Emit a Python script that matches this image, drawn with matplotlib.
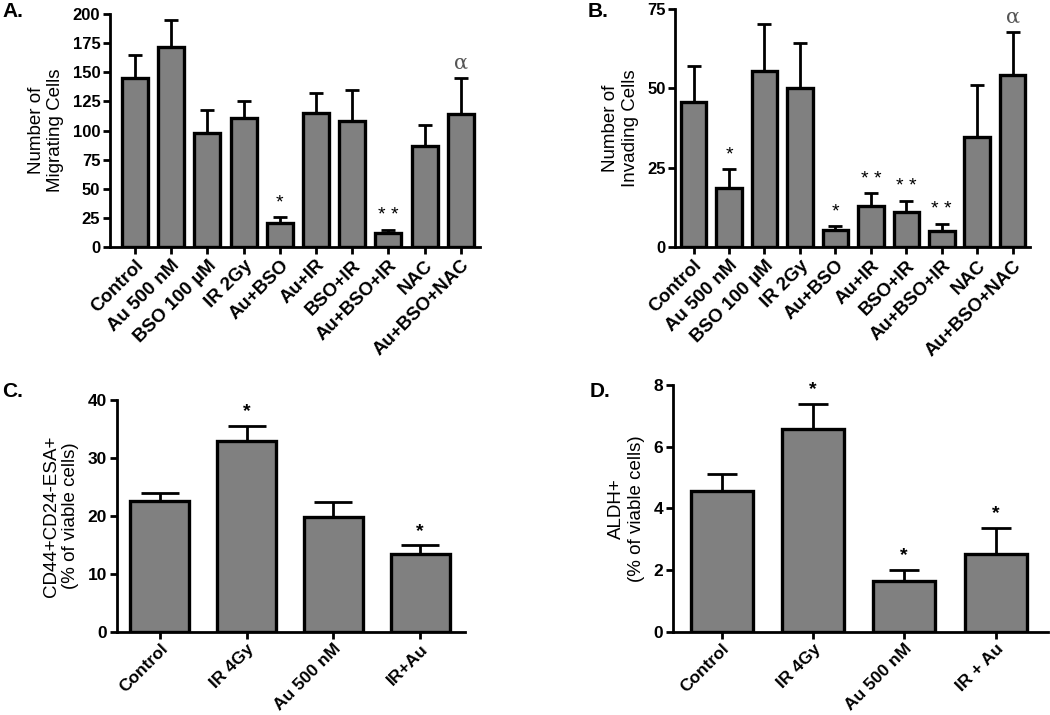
import matplotlib
matplotlib.use("Agg")
import matplotlib.pyplot as plt
import numpy as np

plt.rcParams['font.family'] = ['Liberation Sans', 'DejaVu Sans']

# ---- data ----
ab_labels = ["Control", "Au 500 nM", "BSO 100 \u00b5M", "IR 2Gy", "Au+BSO", "Au+IR",
             "BSO+IR", "Au+BSO+IR", "NAC", "Au+BSO+NAC"]
a_values = [145, 172, 98, 111, 21, 115, 108, 12, 87, 114]
a_err = [20, 23, 20, 14, 5, 17, 27, 3, 18, 31]
a_marks = ["", "", "", "", "*", "", "", "* *", "", "\u03b1"]

b_values = [45.7, 18.7, 55.3, 50.0, 5.5, 13.1, 11.1, 5.0, 34.6, 54.0]
b_err = [11.3, 5.8, 15.0, 14.2, 1.3, 3.9, 3.6, 2.5, 16.4, 13.5]
b_marks = ["", "*", "", "", "*", "* *", "* *", "* *", "", "\u03b1"]

c_labels = ["Control", "IR 4Gy", "Au 500 nM", "IR+Au"]
c_values = [22.5, 33.0, 19.8, 13.4]
c_err = [1.5, 2.5, 2.6, 1.5]
c_marks = ["", "*", "", "*"]

d_labels = ["Control", "IR 4Gy", "Au 500 nM", "IR + Au"]
d_values = [4.57, 6.58, 1.66, 2.53]
d_err = [0.55, 0.82, 0.34, 0.83]
d_marks = ["", "*", "*", "*"]

BAR = "#808080"
fig = plt.figure(figsize=(10.5, 7.15), dpi=100)


def panel(rect, labels, values, errs, marks, ylim, yticks, ylabel, xlim, width,
          capsize, letter, letter_xy, mark_bold, ytick_fs, xtick_fs, lab_fs):
    ax = fig.add_axes(rect)
    x = np.arange(len(values))
    ax.bar(x, values, width=width, color=BAR, edgecolor="black", linewidth=2.4, zorder=2)
    ax.errorbar(x, values, yerr=[np.zeros(len(errs)), errs], fmt="none",
                ecolor="black", elinewidth=2.0, capsize=capsize, capthick=2.0, zorder=1)
    ax.set_xlim(*xlim)
    ax.set_ylim(*ylim)
    ax.set_yticks(yticks)
    ax.set_xticks(x)
    ax.set_xticklabels(labels, rotation=45, ha="right", rotation_mode="anchor",
                       fontweight="bold", fontsize=xtick_fs)
    for t in ax.get_yticklabels():
        t.set_fontweight("bold")
        t.set_fontsize(ytick_fs)
    for s in ["top", "right"]:
        ax.spines[s].set_visible(False)
    for s in ["left", "bottom"]:
        ax.spines[s].set_linewidth(2.0)
    ax.tick_params(axis="both", width=2.0, length=5, direction="out", pad=2)
    ax.set_ylabel(ylabel, fontsize=lab_fs, labelpad=6)
    for xi, v, e, m in zip(x, values, errs, marks):
        if not m:
            continue
        if m == "\u03b1":
            ax.annotate(m, (xi, v + e), xytext=(0, 4), textcoords="offset points",
                        ha="center", va="bottom", fontsize=15, color="#555555",
                        family=["DejaVu Serif"])
        else:
            ax.annotate(m, (xi, v + e), xytext=(0, 4), textcoords="offset points",
                        ha="center", va="bottom", fontsize=14,
                        fontweight="bold" if mark_bold else "normal")
    fig.text(letter_xy[0], letter_xy[1], letter, fontsize=15, fontweight="bold",
             ha="left", va="top")
    return ax


panel([0.1048, 0.6545, 0.352, 0.3259], ab_labels, a_values, a_err, a_marks,
      (0, 200), np.arange(0, 201, 25), "Number of\nMigrating Cells",
      (-0.69, 9.52), 0.72, 5, "A.", (0.002, 0.997), False, 12, 13.5, 13.5)

panel([0.643, 0.654, 0.338, 0.334], ab_labels, b_values, b_err, b_marks,
      (0, 75), [0, 25, 50, 75], "Number of\nInvading Cells",
      (-0.52, 9.49), 0.72, 5, "B.", (0.56, 0.997), False, 12, 13.5, 13.5)

panel([0.111, 0.1165, 0.332, 0.324], c_labels, c_values, c_err, c_marks,
      (0, 40), [0, 10, 20, 30, 40], "CD44+CD24-ESA+\n(% of viable cells)",
      (-0.5, 3.52), 0.68, 14, "C.", (0.002, 0.466), True, 12.5, 12.5, 13.5)

panel([0.6407, 0.1165, 0.357, 0.345], d_labels, d_values, d_err, d_marks,
      (0, 8), [0, 2, 4, 6, 8], "ALDH+\n(% of viable cells)",
      (-0.536, 3.57), 0.68, 11, "D.", (0.562, 0.466), True, 12.5, 12.5, 13.5)

fig.savefig("out.png", dpi=100)
